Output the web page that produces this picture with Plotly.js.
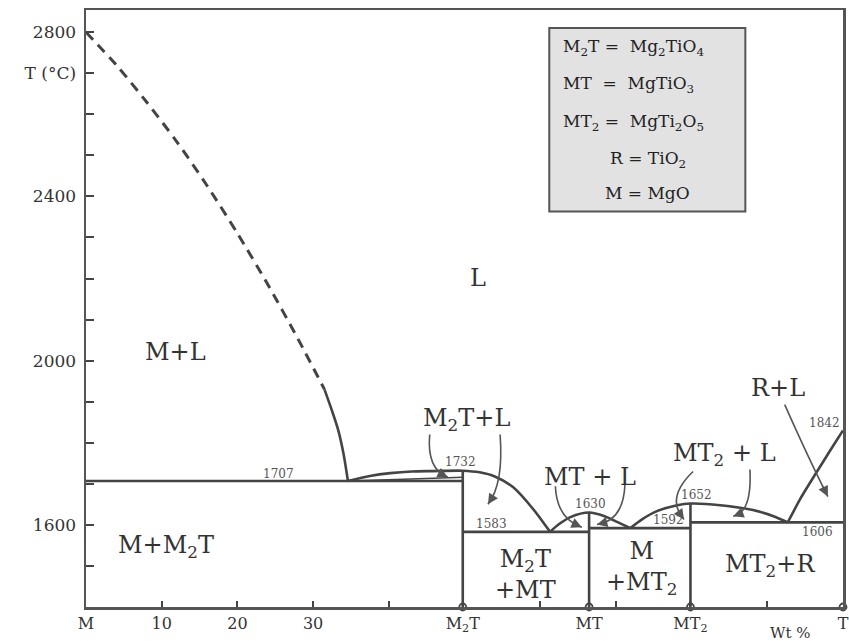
<!DOCTYPE html>
<html>
<head>
<meta charset="utf-8">
<script src="https://cdn.plot.ly/plotly-3.0.1.min.js"></script>
<style>html,body{margin:0;padding:0;background:#fff;}#chart{width:849px;height:641px;}</style>
</head>
<body>
<div id="chart"></div>
<script>
// ---- Data (wt% TiO2, temperature °C) ----
const compM2T = 49.77, compMT = 66.46, compMT2 = 79.85;

// MgO liquidus (dashed, extrapolated) and measured (solid) part
const liqMgoDash_x = [0, 4, 8, 12, 16, 20, 24, 28, 31.5];
const liqMgoDash_y = [2800, 2720, 2630, 2533, 2426, 2310, 2186, 2053, 1930];
const liqMgoSolid_x = [31.5, 32.4, 33.3, 34.0, 34.6];
const liqMgoSolid_y = [1930, 1883, 1832, 1775, 1707];

// M2T liquidus
const liqM2T_x = [34.6, 37.5, 40.2, 43.0, 45.8, 49.77, 52.0, 54.0, 56.4, 59.0, 61.3];
const liqM2T_y = [1707, 1719, 1726, 1730, 1731, 1732, 1728, 1718, 1692, 1640, 1583];
// M2T solidus sliver
const solM2T_x = [34.6, 42.0, 49.77];
const solM2T_y = [1707, 1711, 1716];

// MT liquidus
const liqMT_x = [61.3, 62.5, 64.0, 66.46, 68.5, 70.3, 71.9];
const liqMT_y = [1583, 1602, 1619, 1630, 1621, 1606, 1592];

// MT2 liquidus
const liqMT2_x = [71.9, 73.5, 75.5, 78.1, 79.85, 83.8, 88.1, 91.0, 92.7];
const liqMT2_y = [1592, 1614, 1634, 1648, 1652, 1648, 1636, 1620, 1606];

// Rutile liquidus
const liqR_x = [92.7, 94.5, 96.4, 98.2, 100];
const liqR_y = [1606, 1668, 1725, 1778, 1830];

// Invariant (horizontal) lines: [x0, x1, T]
const isotherms = [[0, compM2T, 1707], [compM2T, compMT, 1583], [compMT, compMT2, 1592], [compMT2, 100, 1606]];
// Compound verticals: [x, Ttop]
const compounds = [[compM2T, 1732], [compMT, 1630], [compMT2, 1652]];

// Temperature labels
const tLabels = ["1707", "1732", "1583", "1630", "1592", "1652", "1842", "1606"];
const tLabel_x = [25.4, 49.5, 53.6, 66.6, 77.0, 80.7, 97.5, 96.6];
const tLabel_y = [1725, 1754, 1602, 1650, 1611, 1674, 1849, 1582];

// Phase-field labels
const fieldLabels = ["L", "M+L", "M+M<sub>2</sub>T", "M<sub>2</sub>T+L", "M<sub>2</sub>T<br>+MT", "MT + L", "M<br>+MT<sub>2</sub>", "MT<sub>2</sub> + L", "R+L", "MT<sub>2</sub>+R"];
const field_x = [51.8, 11.8, 10.6, 50.2, 58.0, 66.6, 73.4, 84.4, 91.4, 90.4];
const field_y = [2202, 2020, 1548, 1857, 1480, 1716, 1494, 1772, 1934, 1501];

// Curved arrows: start, control, end
const arrowStart = [[45.4, 1820], [54.7, 1820], [62.0, 1694], [71.2, 1699], [80.2, 1730], [87.7, 1735], [92.3, 1893]];
const arrowCtrl  = [[45.0, 1735], [55.2, 1700], [62.2, 1615], [71.0, 1610], [76.5, 1665], [88.0, 1630], [95.5, 1760]];
const arrowEnd   = [[47.8, 1716], [53.1, 1650], [65.5, 1594], [67.5, 1601], [79.0, 1613], [85.5, 1621], [98.0, 1669]];

// Axis ticks
const xTickVals = [0, 10, 20, 30, compM2T, compMT, compMT2, 100];
const xTickText = ["M", "10", "20", "30", "M<sub>2</sub>T", "MT", "MT<sub>2</sub>", "T"];
const xMinorVals = [40, 60, 70, 90];
const yTickVals = [1600, 2000, 2400, 2700, 2800];
const yTickText = ["1600", "2000", "2400", "T (°C)", "2800"];

// Key box lines
const keyLines = ["M<sub>2</sub>T =  Mg<sub>2</sub>TiO<sub>4</sub>", "MT  =  MgTiO<sub>3</sub>", "MT<sub>2</sub> =  MgTi<sub>2</sub>O<sub>5</sub>", "R = TiO<sub>2</sub>", "M = MgO"];
const keyLine_y = [2762, 2672, 2580, 2490, 2409];

// ---- Build ----
const LC = '#444';
const FONT = 'DejaVu Serif';
const traces = [];
function line(x, y, opts) {
  traces.push(Object.assign({type: 'scatter', mode: 'lines', x: x, y: y, hoverinfo: 'skip',
    line: Object.assign({color: LC, width: 2.6}, opts || {})}));
}
line(liqMgoDash_x, liqMgoDash_y, {dash: '10px,7px', shape: 'spline', smoothing: 0.8, width: 3});
line(liqMgoSolid_x, liqMgoSolid_y, {shape: 'spline', smoothing: 0.8, width: 2.6});
line(liqM2T_x, liqM2T_y, {shape: 'spline', smoothing: 0.8});
line(solM2T_x, solM2T_y, {shape: 'spline', width: 1.5});
line(liqMT_x, liqMT_y, {shape: 'spline', smoothing: 0.8});
line(liqMT2_x, liqMT2_y, {shape: 'spline', smoothing: 0.8});
line(liqR_x, liqR_y, {shape: 'spline', smoothing: 0.6});
isotherms.forEach(h => line([h[0], h[1]], [h[2], h[2]], {width: 2.6}));
compounds.forEach(c => line([c[0], c[0]], [1400, c[1]], {width: 2.6}));
traces.push({type: 'scatter', mode: 'markers', x: [compM2T, compMT, compMT2, 100], y: [1400, 1400, 1400, 1400],
  cliponaxis: false, hoverinfo: 'skip',
  marker: {symbol: 'circle-open', size: 7, color: LC, line: {width: 1.8, color: LC}}});

const annotations = [];
tLabels.forEach((t, i) => annotations.push({x: tLabel_x[i], y: tLabel_y[i], text: t, showarrow: false,
  font: {family: FONT, size: 12, color: '#555'}}));
fieldLabels.forEach((t, i) => annotations.push({x: field_x[i], y: field_y[i], text: t, showarrow: false,
  font: {family: FONT, size: 24, color: '#333'}}));
annotations.push({x: 93, y: -0.044, xref: 'x', yref: 'paper', yanchor: 'middle', text: 'Wt %', showarrow: false,
  font: {family: FONT, size: 15, color: '#333'}});
keyLines.forEach((t, i) => annotations.push({x: i < 3 ? 62.8 : 74.2, xanchor: i < 3 ? 'left' : 'center',
  y: keyLine_y[i], text: t, showarrow: false, font: {family: FONT, size: 17, color: '#222'}}));

const shapes = [];
shapes.push({type: 'rect', xref: 'x', yref: 'y', x0: 61.2, x1: 87.1, y0: 2363, y1: 2810,
  fillcolor: '#e2e2e2', line: {color: '#555', width: 2}, layer: 'below'});
arrowStart.forEach((s, i) => {
  const c = arrowCtrl[i], e = arrowEnd[i];
  shapes.push({type: 'path', xref: 'x', yref: 'y',
    path: `M ${s[0]},${s[1]} Q ${c[0]},${c[1]} ${e[0]},${e[1]}`, line: {color: '#555', width: 1.6}});
  const t = 0.85;
  const bx = (1 - t) * (1 - t) * s[0] + 2 * (1 - t) * t * c[0] + t * t * e[0];
  const by = (1 - t) * (1 - t) * s[1] + 2 * (1 - t) * t * c[1] + t * t * e[1];
  annotations.push({x: e[0], y: e[1], ax: bx, ay: by, axref: 'x', ayref: 'y', text: '', showarrow: true,
    arrowhead: 2, arrowsize: 1.3, arrowwidth: 1.6, arrowcolor: '#555', standoff: 0, startstandoff: 0});
});

const layout = {
  width: 849, height: 641,
  margin: {l: 86, r: 6, t: 10, b: 34},
  paper_bgcolor: '#fff', plot_bgcolor: '#fff',
  showlegend: false,
  font: {family: FONT, color: '#333'},
  xaxis: {range: [0, 100], showgrid: false, zeroline: false, showline: true, mirror: true,
    linecolor: '#555', linewidth: 2.5,
    tickmode: 'array', tickvals: xTickVals, ticktext: xTickText, ticks: 'inside', ticklen: 6,
    tickwidth: 2, tickcolor: LC, tickfont: {family: FONT, size: 16, color: '#333'},
    minor: {tickmode: 'array', tickvals: xMinorVals, ticks: 'inside', ticklen: 6, tickwidth: 2, tickcolor: LC}},
  yaxis: {range: [1400, 2854], showgrid: false, zeroline: false, showline: true, mirror: true,
    linecolor: '#555', linewidth: 2.5, ticklabelstandoff: 4,
    tickmode: 'array', tickvals: yTickVals, ticktext: yTickText, ticks: 'inside', ticklen: 8,
    tickwidth: 2, tickcolor: LC, tickfont: {family: FONT, size: 17, color: '#333'},
    minor: {dtick: 100, tick0: 1400, ticks: 'inside', ticklen: 8, tickwidth: 2, tickcolor: LC}},
  shapes: shapes,
  annotations: annotations
};
Plotly.newPlot('chart', traces, layout, {displayModeBar: false, staticPlot: true});
</script>
</body>
</html>
